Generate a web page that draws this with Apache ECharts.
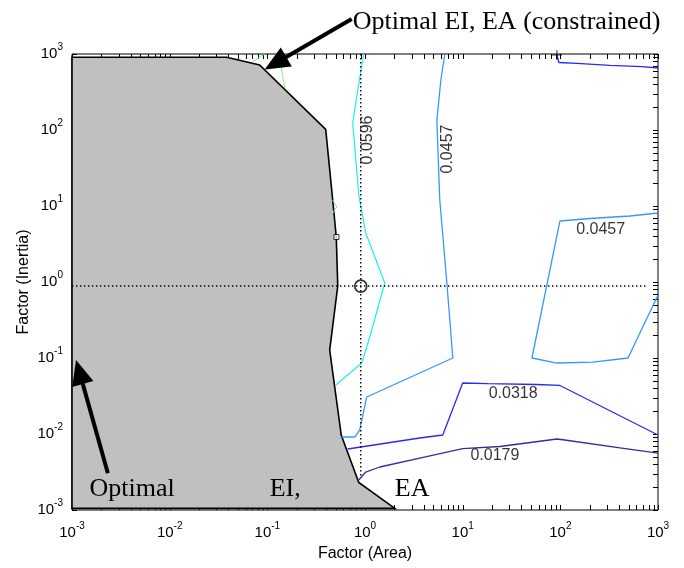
<!DOCTYPE html>
<html><head><meta charset="utf-8">
<script src="https://cdn.jsdelivr.net/npm/echarts@6/dist/echarts.min.js"></script>
<style>html,body{margin:0;padding:0;background:#fff}#c{width:684px;height:568px}</style>
</head><body><div id="c"></div>
<script>
// ---- data ----
const decadeExps = [-3, -2, -1, 0, 1, 2, 3];
const minorMults = [2, 3, 4, 5, 6, 7, 8, 9];

// infeasible (constrained) region boundary
const regionX = [0.001, 0.0383, 0.0834, 0.396, 0.467, 0.508, 0.526, 0.435, 0.571, 0.863, 2.02, 0.001];
const regionY = [905, 905, 716, 102, 12.0, 3.91, 0.885, 0.127, 0.0097, 0.0023, 0.00105, 0.00105];

// contour 0.0596
const c0596X = [0.970, 0.844, 0.749, 0.863, 1.018, 1.594, 1.119, 0.927, 0.502];
const c0596Y = [1000, 336, 124, 13.96, 4.41, 0.970, 0.189, 0.0859, 0.0442];
// contour 0.0457 (left branch)
const c0457aX = [6.57, 5.98, 5.44, 5.83, 6.89, 7.93, 1.042, 0.883, 0.785, 0.578];
const c0457aY = [1000, 455, 135, 12.0, 0.970, 0.1, 0.0307, 0.0113, 0.00913, 0.00913];
// contour 0.0457 (right loop)
const c0457bX = [1000, 517, 201, 99.1, 51.2, 92.3, 216, 493, 1000];
const c0457bY = [8.09, 7.39, 6.85, 6.35, 0.1, 0.0859, 0.0885, 0.1, 0.675];
// contour 0.0318 (lower)
const c0318aX = [0.665, 3.64, 6.26, 10.0, 18.1, 57.6, 99.1, 1000];
const c0318aY = [0.00635, 0.00886, 0.0097, 0.0469, 0.0461, 0.0448, 0.0435, 0.0097];
// contour 0.0318 (top right)
const c0318bX = [92.3, 96.7, 148, 322, 686, 1000];
const c0318bY = [970, 773, 755, 710, 681, 654];
// contour 0.0179
const c0179X = [0.863, 1.018, 1.416, 3.64, 10.0, 24.0, 92.3, 111, 408, 1000];
const c0179Y = [0.00248, 0.00316, 0.00368, 0.00483, 0.00644, 0.00685, 0.00859, 0.00834, 0.00655, 0.00562];
// higher contour (green) fragments
const gAX = [0.0708, 0.0939];
const gAY = [792, 1000];
const gBX = [0.134, 0.140, 0.1506];
const gBY = [1000, 616, 357];
const gCX = [0.467, 0.514, 0.467];
const gCY = [12.0, 9.7, 8.09];

// contour labels
const labelTexts = ['0.0596', '0.0457', '0.0457', '0.0318', '0.0179'];
const labelX = [1.067, 7.05, 259, 32.9, 21.4];
const labelY = [73.9, 56.2, 4.83, 0.0336, 0.00518];
const labelRot = [90, 90, 0, 0, 0];

// optimum & guides
const optX = [0.905];
const optY = [0.885];
const guideHX = [0.001, 772];
const guideVY = [1000, 0.00264];
const sqX = [0.510], sqY = [3.91];
const plusX = [92.3], plusY = [970];

// annotations (data coords)
const annTexts = ['Optimal EI, EA (constrained)', 'Optimal', 'EI,', 'EA'];
const annX = [0.749, 0.00151, 0.1057, 2.02];
const annY = [2597, 0.00189, 0.00189, 0.00189];
const arrowTail = [[0.731, 2890], [0.00233, 0.00304]];
const arrowTip = [[0.0939, 625], [0.0011, 0.0942]];

// ---- helpers ----
const zip = (xs, ys) => xs.map((x, i) => [x, ys[i]]);
const SANS = '"Liberation Sans", Arial, sans-serif';
const SERIF = '"Liberation Serif", "Times New Roman", serif';

function lineSeries(xs, ys, color, width) {
  return {
    type: 'line', data: zip(xs, ys), showSymbol: false, symbol: 'none',
    lineStyle: { color: color, width: width || 1.2 }, z: 3, silent: true, animation: false
  };
}

const tickVals = [];
decadeExps.forEach(e => {
  tickVals.push(Math.pow(10, e));
  if (e < 3) minorMults.forEach(m => tickVals.push(m * Math.pow(10, e)));
});

const chart = echarts.init(document.getElementById('c'), null, { renderer: 'canvas' });

const expFmt = v => '{a|10}{b|' + Math.round(Math.log10(v)) + '}';
const richLbl = {
  a: { fontSize: 15, fontFamily: SANS, color: '#000', lineHeight: 24 },
  b: { fontSize: 10, fontFamily: SANS, color: '#000', lineHeight: 6, verticalAlign: 'top' }
};

const option = {
  animation: false,
  backgroundColor: '#fff',
  grid: { left: 72, right: 26, top: 54, bottom: 58, show: true, borderColor: '#000', borderWidth: 1, backgroundColor: 'transparent' },
  xAxis: {
    type: 'log', logBase: 10, min: 0.001, max: 1000, splitNumber: 6,
    axisLine: { show: false }, axisTick: { show: false }, splitLine: { show: false },
    axisLabel: { formatter: expFmt, rich: richLbl, margin: 11, showMinLabel: true, showMaxLabel: true, hideOverlap: false },
    name: 'Factor (Area)', nameLocation: 'middle', nameGap: 36, nameMoveOverlap: false,
    nameTextStyle: { fontSize: 16, fontFamily: SANS, color: '#000' }
  },
  yAxis: {
    type: 'log', logBase: 10, min: 0.001, max: 1000, splitNumber: 6,
    axisLine: { show: false }, axisTick: { show: false }, splitLine: { show: false },
    axisLabel: { formatter: expFmt, rich: richLbl, margin: 9, showMinLabel: true, showMaxLabel: true, hideOverlap: false },
    name: 'Factor (Inertia)', nameLocation: 'middle', nameGap: 40, nameMoveOverlap: false,
    nameTextStyle: { fontSize: 16, fontFamily: SANS, color: '#000' }
  },
  series: [
    { // tick marks
      type: 'custom', data: [[1, 1]], z: 1, silent: true,
      renderItem: function (params, api) {
        const p0 = api.coord([0.001, 0.001]);
        const p1 = api.coord([1000, 1000]);
        const L = 5, ch = [];
        const st = { stroke: '#000', lineWidth: 1 };
        tickVals.forEach(v => {
          const px = Math.round(api.coord([v, 1])[0]) + 0.5;
          const py = Math.round(api.coord([1, v])[1]) + 0.5;
          ch.push({ type: 'line', shape: { x1: px, y1: p0[1], x2: px, y2: p0[1] - L }, style: st });
          ch.push({ type: 'line', shape: { x1: px, y1: p1[1], x2: px, y2: p1[1] + L }, style: st });
          ch.push({ type: 'line', shape: { x1: p0[0], y1: py, x2: p0[0] + L, y2: py }, style: st });
          ch.push({ type: 'line', shape: { x1: p1[0], y1: py, x2: p1[0] - L, y2: py }, style: st });
        });
        return { type: 'group', children: ch };
      }
    },
    { // constrained region
      type: 'custom', data: [[1, 1]], z: 2, silent: true,
      renderItem: function (params, api) {
        return {
          type: 'polygon',
          shape: { points: regionX.map((x, i) => api.coord([x, regionY[i]])) },
          style: { fill: '#c0c0c0', stroke: '#000', lineWidth: 1.6 }
        };
      }
    },
    lineSeries(gAX, gAY, '#7ff07f', 1),
    lineSeries(gBX, gBY, '#7ff07f', 1),
    lineSeries(gCX, gCY, '#7ff07f', 1),
    lineSeries(c0596X, c0596Y, '#19f0f0', 1.2),
    lineSeries(c0457aX, c0457aY, '#3399ff', 1.3),
    lineSeries(c0457bX, c0457bY, '#3399ff', 1.3),
    lineSeries(c0318aX, c0318aY, '#2a2af5', 1.3),
    lineSeries(c0318bX, c0318bY, '#2a2af5', 1.3),
    lineSeries(c0179X, c0179Y, '#30309c', 1.3),
    { // horizontal guide
      type: 'line', data: zip(guideHX, [optY[0], optY[0]]), showSymbol: false, symbol: 'none', z: 4, silent: true,
      lineStyle: { color: '#000', width: 1.4, type: [1.4, 2.6] }
    },
    { // vertical guide
      type: 'line', data: zip([optX[0], optX[0]], guideVY), showSymbol: false, symbol: 'none', z: 4, silent: true,
      lineStyle: { color: '#000', width: 1.4, type: [1.4, 2.6] }
    },
    { // optimum marker
      type: 'scatter', data: zip(optX, optY), symbol: 'circle', symbolSize: 12, z: 5, silent: true,
      itemStyle: { color: 'rgba(255,255,255,0)', borderColor: '#000', borderWidth: 1.7 }
    },
    {
      type: 'scatter', data: zip(sqX, sqY), symbol: 'rect', symbolSize: 5, z: 5, silent: true,
      itemStyle: { color: '#fff', borderColor: '#000', borderWidth: 1 }
    },
    {
      type: 'scatter', data: zip(plusX, plusY), symbol: 'path://M4.5,0H5.5V4.5H10V5.5H5.5V10H4.5V5.5H0V4.5H4.5Z', symbolSize: 10, z: 5, silent: true,
      itemStyle: { color: '#000' }
    },
    { // contour labels
      type: 'scatter', symbolSize: 1, z: 6, silent: true,
      itemStyle: { color: 'rgba(0,0,0,0)' },
      data: labelTexts.map((t, i) => ({
        value: [labelX[i], labelY[i]], name: t,
        label: { show: true, position: 'inside', rotate: labelRot[i], formatter: t, fontSize: 16, fontFamily: SANS, color: '#000' }
      }))
    }
  ]
};
chart.setOption(option);

// annotations placed through the chart's own scales
const P = (pt) => chart.convertToPixel({ gridIndex: 0 }, pt);
const gEls = [];
annTexts.forEach((t, i) => {
  const p = P([annX[i], annY[i]]);
  gEls.push({
    type: 'text', x: p[0], y: p[1], z: 100,
    style: { text: t, font: '26px ' + SERIF, fill: '#000', align: 'left', verticalAlign: 'middle', textAlign: 'left', textVerticalAlign: 'middle' }
  });
});
arrowTail.forEach((tl, i) => {
  const a = P(tl), b = P(arrowTip[i]);
  const dx = b[0] - a[0], dy = b[1] - a[1];
  const L = Math.hypot(dx, dy), ux = dx / L, uy = dy / L;
  const hl = 25, hw = 11;
  const bx = b[0] - ux * hl, by = b[1] - uy * hl;
  gEls.push({ type: 'line', z: 100, shape: { x1: a[0], y1: a[1], x2: bx + ux * 3, y2: by + uy * 3 }, style: { stroke: '#000', lineWidth: 4 } });
  gEls.push({ type: 'polygon', z: 100, shape: { points: [b, [bx - uy * hw, by + ux * hw], [bx + uy * hw, by - ux * hw]] }, style: { fill: '#000' } });
});
chart.setOption({ graphic: { elements: gEls } });
</script>
</body></html>
